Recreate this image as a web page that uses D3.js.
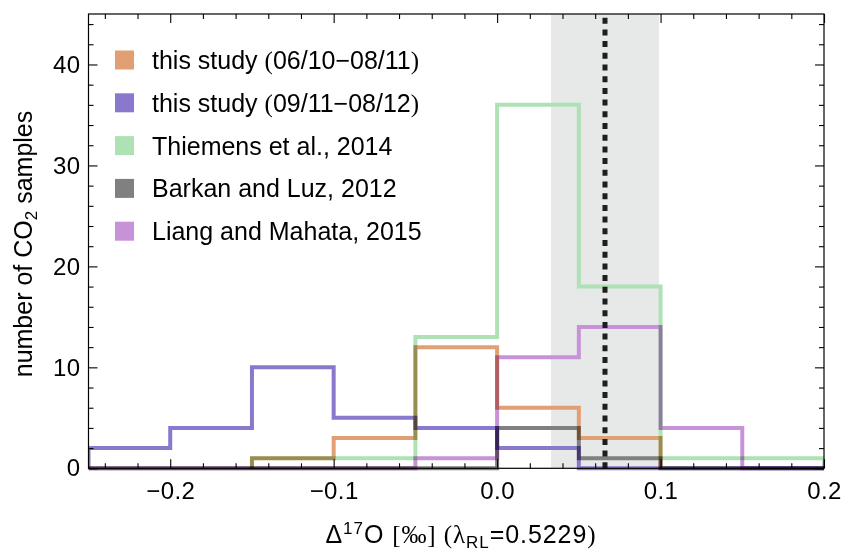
<!DOCTYPE html>
<html>
<head>
<meta charset="utf-8">
<script src="https://cdn.jsdelivr.net/npm/d3@7"></script>
<style>
  html, body { margin: 0; padding: 0; background: #fff; }
  svg { display: block; }
  text { font-family: "Liberation Sans", Arial, sans-serif; fill: #000; }
  .serif { font-family: "Liberation Serif", "Times New Roman", serif; }
</style>
</head>
<body>
<svg id="chart" width="844" height="554"></svg>
<script>
// ---- data ----
// bins of width 0.05 from -0.25 to 0.2; null = bin not drawn
const binEdges = [-0.25, -0.2, -0.15, -0.1, -0.05, 0.0, 0.05, 0.1, 0.15, 0.2];
const seriesNames = [
  "this study (06/10\u221208/11)",
  "this study (09/11\u221208/12)",
  "Thiemens et al., 2014",
  "Barkan and Luz, 2012",
  "Liang and Mahata, 2015"
];
const countsStudy1 = [null, null, 1, 3, 12, 6, 3, null, null];
const countsStudy2 = [2, 4, 10, 5, 4, 2, 0, 0, 0];
const countsThiemens = [null, null, 1, 1, 13, 36, 18, 1, 1];
const countsBarkan = [0, 0, 0, 0, 0, 4, 1, 0, 0];
const countsLiang = [0, 0, 0, 0, 1, 11, 14, 4, 0];
const seriesColors = ["#E1A073", "#8978CC", "#AEE2B5", "#808080", "#C892D8"];
const bandRange = [0.033, 0.099];
const meanValue = 0.066;
const xTicksMajor = [-0.2, -0.1, 0.0, 0.1, 0.2];
const yTicksMajor = [0, 10, 20, 30, 40];

const allCounts = [countsStudy1, countsStudy2, countsThiemens, countsBarkan, countsLiang];

// ---- layout ----
const svg = d3.select("#chart");
const L = 88.5, R = 824, T = 14, B = 468.3;
const x = d3.scaleLinear().domain([-0.25, 0.2]).range([L, R]);
const y = d3.scaleLinear().domain([0, 45]).range([B, T]);

svg.append("defs").append("clipPath").attr("id", "plotclip")
  .append("rect").attr("x", L).attr("y", T).attr("width", R - L).attr("height", B - T + 3);

// band
svg.append("rect")
  .attr("x", x(bandRange[0])).attr("y", y(45))
  .attr("width", x(bandRange[1]) - x(bandRange[0]))
  .attr("height", y(0) - y(45))
  .attr("fill", "#e7e8e8");

// histograms (outline steps)
const gH = svg.append("g").attr("clip-path", "url(#plotclip)");
const line = d3.line().x(d => x(d[0])).y(d => y(d[1])).curve(d3.curveStepAfter);
allCounts.forEach((counts, i) => {
  const idx = counts.map((c, j) => c === null ? -1 : j).filter(j => j >= 0);
  const s = idx[0], e = idx[idx.length - 1];
  const pts = [[binEdges[s], 0]];
  for (let j = s; j <= e; j++) pts.push([binEdges[j], counts[j]]);
  pts.push([binEdges[e + 1], counts[e]]);
  pts.push([binEdges[e + 1], 0]);
  gH.append("path")
    .attr("d", line(pts))
    .attr("fill", "none")
    .attr("stroke", seriesColors[i])
    .attr("stroke-width", 4)
    .style("mix-blend-mode", "multiply");
});

// mean dashed line
svg.append("line")
  .attr("x1", x(meanValue)).attr("x2", x(meanValue))
  .attr("y1", y(0)).attr("y2", y(45))
  .attr("stroke", "#1e1e1e").attr("stroke-width", 5)
  .attr("stroke-dasharray", "6,5.7");

// frame
svg.append("rect").attr("x", L).attr("y", T).attr("width", R - L).attr("height", B - T)
  .attr("fill", "none").attr("stroke", "#000").attr("stroke-width", 1.2);

// axes (ticks inward)
const xMinor = d3.range(-0.24, 0.2001, 0.02).filter(v => Math.abs(v * 10 - Math.round(v * 10)) > 1e-6);
const yMinor = d3.range(2, 45, 2).filter(v => v % 10 !== 0);

const fmtX = d3.format(".1f");
svg.append("g").attr("transform", `translate(0,${B})`)
  .call(d3.axisBottom(x).tickValues(xTicksMajor).tickSizeInner(-9).tickSizeOuter(0).tickFormat(fmtX).tickPadding(14));
svg.append("g").attr("transform", `translate(0,${T})`)
  .call(d3.axisTop(x).tickValues(xTicksMajor).tickSizeInner(-9).tickSizeOuter(0).tickFormat(""));
svg.append("g").attr("transform", `translate(${L},0)`)
  .call(d3.axisLeft(y).tickValues(yTicksMajor).tickSizeInner(-9).tickSizeOuter(0).tickFormat(d3.format("d")).tickPadding(8));
svg.append("g").attr("transform", `translate(${R},0)`)
  .call(d3.axisRight(y).tickValues(yTicksMajor).tickSizeInner(-9).tickSizeOuter(0).tickFormat(""));

svg.append("g").attr("transform", `translate(0,${B})`)
  .call(d3.axisBottom(x).tickValues(xMinor).tickSizeInner(-5).tickSizeOuter(0).tickFormat(""));
svg.append("g").attr("transform", `translate(0,${T})`)
  .call(d3.axisTop(x).tickValues(xMinor).tickSizeInner(-5).tickSizeOuter(0).tickFormat(""));
svg.append("g").attr("transform", `translate(${L},0)`)
  .call(d3.axisLeft(y).tickValues(yMinor).tickSizeInner(-5).tickSizeOuter(0).tickFormat(""));
svg.append("g").attr("transform", `translate(${R},0)`)
  .call(d3.axisRight(y).tickValues(yMinor).tickSizeInner(-5).tickSizeOuter(0).tickFormat(""));

svg.selectAll(".domain").remove();
svg.selectAll(".tick line").attr("stroke", "#000").attr("stroke-width", 1.1);
svg.selectAll(".tick text").attr("font-size", 24).attr("letter-spacing", 0.4)
  .attr("font-family", "Liberation Sans, Arial, sans-serif").attr("fill", "#000");

// legend
const lg = svg.append("g");
seriesNames.forEach((name, i) => {
  const cy = 60 + i * 42.8;
  lg.append("rect").attr("x", 115).attr("y", cy - 9.5).attr("width", 19).attr("height", 19)
    .attr("fill", seriesColors[i]);
  const t = lg.append("text").attr("x", 152).attr("y", cy + 9).attr("font-size", 25);
  const m = name.match(/^(.*?)\((.*)\)$/);
  if (m) {
    t.append("tspan").text(m[1]);
    t.append("tspan").attr("class", "serif").text("(");
    t.append("tspan").text(m[2]);
    t.append("tspan").attr("class", "serif").text(")");
  } else {
    t.text(name);
  }
});

// y label
const yl = svg.append("text")
  .attr("transform", `translate(32,${244}) rotate(-90)`)
  .attr("text-anchor", "middle").attr("font-size", 25);
yl.append("tspan").text("number of CO");
yl.append("tspan").attr("font-size", 17).attr("dy", 5).text("2");
yl.append("tspan").attr("dy", -5).text(" samples");

// x label
const xl = svg.append("text")
  .attr("x", 461).attr("y", 543)
  .attr("text-anchor", "middle").attr("font-size", 25);
xl.append("tspan").text("\u0394");
xl.append("tspan").attr("font-size", 17).attr("dy", -9).text("17");
xl.append("tspan").attr("dy", 9).text("O ");
xl.append("tspan").attr("class", "serif").text("[\u2030] (\u03BB");
xl.append("tspan").attr("font-size", 17).attr("dy", 5).text("RL");
xl.append("tspan").attr("dy", -5).text("=0.5229");
xl.append("tspan").attr("class", "serif").text(")");
// widen spacing so the label spans the same width as the reference
const xlw = xl.node().getComputedTextLength();
const xlTarget = 272;
if (xlw < xlTarget) xl.attr("letter-spacing", (xlTarget - xlw) / 22);
</script>
</body>
</html>
